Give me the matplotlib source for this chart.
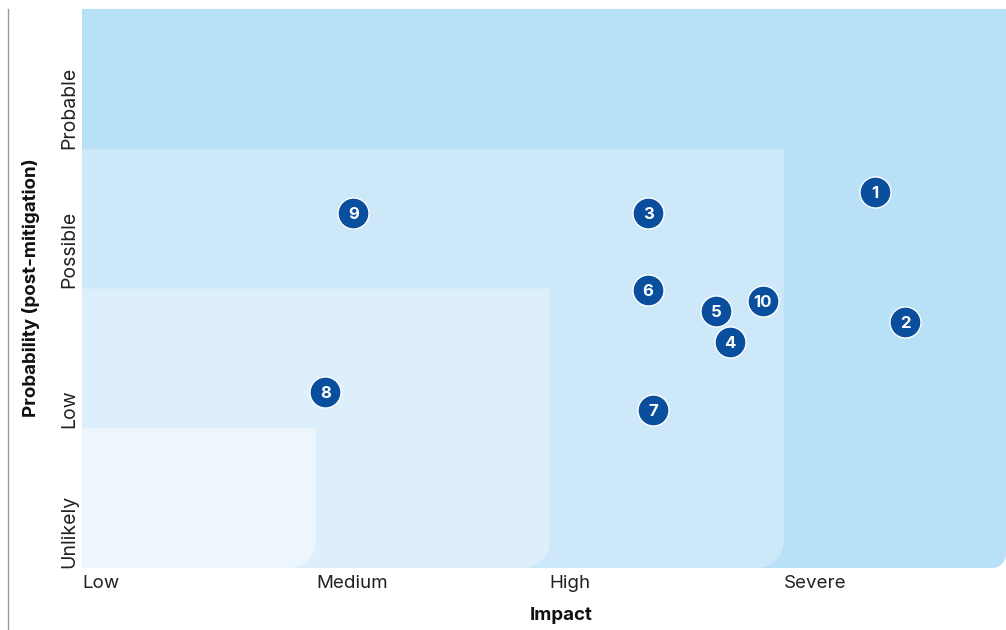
import matplotlib
matplotlib.use("Agg")
import matplotlib.pyplot as plt
from matplotlib.path import Path
from matplotlib.patches import PathPatch
from matplotlib.lines import Line2D

# ── Data ─────────────────────────────────────────────────────────────────────
IMPACT_LABELS = ["Low", "Medium", "High", "Severe"]
PROB_LABELS   = ["Unlikely", "Low", "Possible", "Probable"]

RISK_IDS = ["1", "2", "3", "4", "5", "6", "7", "8", "9", "10"]
RISK_X   = [3.39, 3.52, 2.42, 2.77, 2.71, 2.42, 2.44, 1.04, 1.16, 2.91]
RISK_Y   = [2.69, 1.76, 2.54, 1.62, 1.84, 1.99, 1.13, 1.26, 2.54, 1.91]

# zone extents (impact, probability) from the origin, drawn back to front
ZONE_W      = [3.95, 3.0, 2.0, 1.0]
ZONE_H      = [4.0, 3.0, 2.0, 1.0]
ZONE_COLORS = ["#b8e0f6", "#cde8f8", "#ddeffb", "#eef6fd"]

MARKER_COLOR = "#0a4f9e"
XMAX = 3.95


def zone_path(w, h, rx, ry):
    # rectangle from origin, only the bottom-right corner rounded
    k = 0.5523
    verts = [
        (0, 0), (w - rx, 0),
        (w - rx + k * rx, 0), (w, ry - k * ry), (w, ry),
        (w, h), (0, h), (0, 0),
    ]
    codes = [Path.MOVETO, Path.LINETO,
             Path.CURVE4, Path.CURVE4, Path.CURVE4,
             Path.LINETO, Path.LINETO, Path.CLOSEPOLY]
    return Path(verts, codes)


plt.rcParams["font.family"] = ["Inter", "DejaVu Sans"]

fig = plt.figure(figsize=(10.06, 6.30), dpi=100)
ax = fig.add_axes([82 / 1006, 62 / 630, 924 / 1006, 559 / 630])
ax.set_xlim(0, XMAX)
ax.set_ylim(0, 4)

# pixel sizes of one data unit, for the corner radius
px_x = 924 / XMAX
px_y = 559 / 4
radius = 27
for w, h, c in zip(ZONE_W, ZONE_H, ZONE_COLORS):
    r = radius if w < XMAX else 14
    ax.add_patch(PathPatch(zone_path(w, h, r / px_x, r / px_y),
                           facecolor=c, edgecolor="none", zorder=1))

ax.scatter(RISK_X, RISK_Y, s=500, color=MARKER_COLOR, edgecolors="white",
           linewidths=1.0, zorder=3)
for x, y, label in zip(RISK_X, RISK_Y, RISK_IDS):
    ax.text(x, y, label, color="white", fontsize=12, fontweight="bold",
            ha="center", va="center_baseline", zorder=4)

ax.set_xticks(range(len(IMPACT_LABELS)))
ax.set_xticklabels(IMPACT_LABELS, ha="left", fontsize=13.5, color="#222222")
ax.set_yticks(range(len(PROB_LABELS)))
ax.set_yticklabels(PROB_LABELS, rotation=90, va="bottom", fontsize=14,
                   color="#222222")
ax.tick_params(length=0, pad=5)
ax.tick_params(axis="y", pad=3)

for s in ax.spines.values():
    s.set_visible(False)

fig.text(561 / 1006, 1 - 615 / 630, "Impact", ha="center", va="center",
         fontsize=13.5, fontweight="bold", color="#111111")
fig.text(31 / 1006, 1 - 288 / 630, "Probability (post-mitigation)",
         rotation=90, ha="center", va="center", fontsize=13.5,
         fontweight="bold", color="#111111")

fig.add_artist(Line2D([7.5 / 1006, 7.5 / 1006], [0, 1 - 9 / 630],
                      transform=fig.transFigure, color="#9a9a9a", lw=1))

fig.savefig("out.png", dpi=100)
